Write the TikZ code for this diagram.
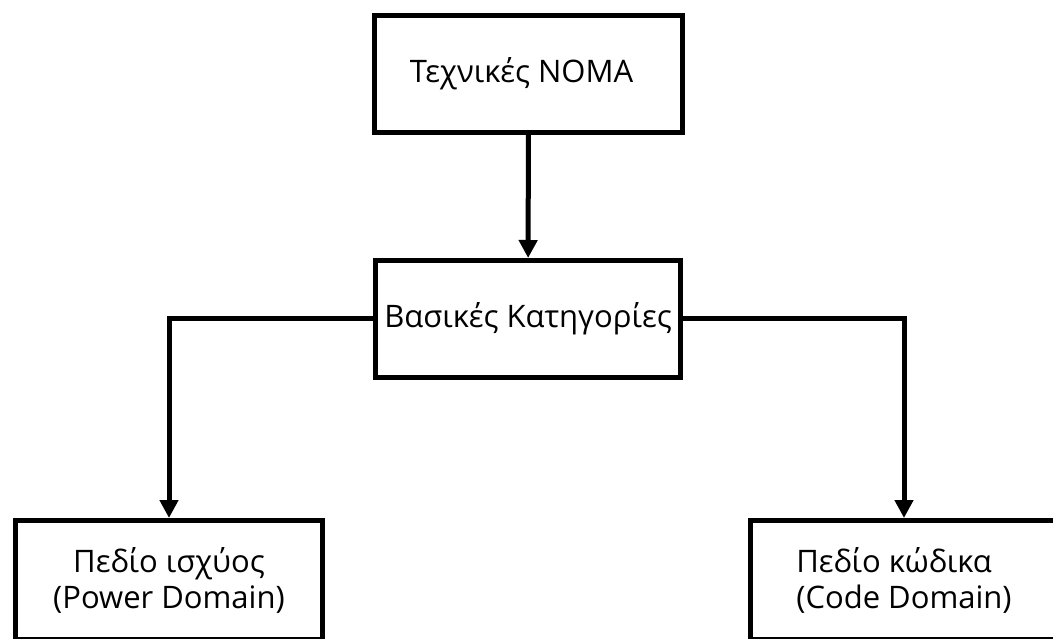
\documentclass[tikz,border=0pt]{standalone}
\usepackage{fontspec}
\setmainfont{Open Sans}
\usetikzlibrary{arrows.meta}
\begin{document}
\begin{tikzpicture}[x=1pt,y=-1pt,
  box/.style={draw=black, line width=5pt, fill=white, inner sep=0pt,
    font=\fontsize{31}{36}\selectfont, text=black},
  link/.style={line width=5pt, draw=black,
    -{Triangle[length=18pt,width=18pt]}}]
  \useasboundingbox (0,0) rectangle (1053,639);
  \clip (0,0) rectangle (1053,639);
  \fill[white] (0,0) rectangle (1053,639);

  \node[box, minimum width=308pt, minimum height=117pt] (noma) at (528.5,74) {Τεχνικές ΝΟΜΑ\hspace*{14pt}};
  \node[box, minimum width=305pt, minimum height=117pt] (cat) at (528,319) {Βασικές Κατηγορίες};
  \node[box, minimum width=307pt, minimum height=119pt, align=center] (power) at (169,580)
    {Πεδίο ισχύος\\(Power Domain)};
  \node[box, minimum width=307pt, minimum height=119pt, align=left] (code) at (904,580)
    {Πεδίο κώδικα\\(Code Domain)};

  \draw[link] (noma) -- (cat);
  \draw[link] (cat.west) -| (power.north);
  \draw[link] (cat.east) -| (code.north);
\end{tikzpicture}
\end{document}
